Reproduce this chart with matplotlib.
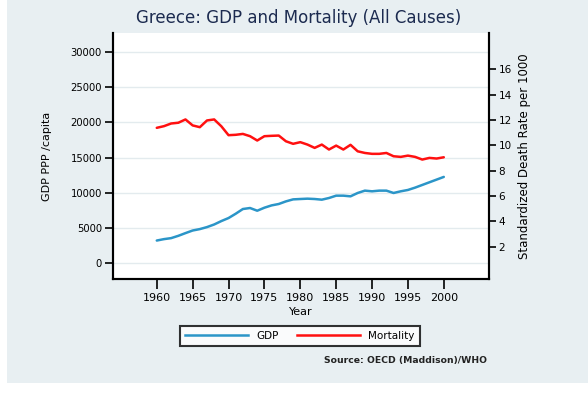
import matplotlib.pyplot as plt
from matplotlib.patches import Rectangle
from matplotlib.lines import Line2D

plt.rcParams['font.family'] = ['DejaVu Sans']

years = list(range(1960, 2001))

# GDP PPP per capita
gdp = [3186, 3386, 3529, 3857, 4243, 4614, 4814, 5100, 5471, 5957,
       6386, 7000, 7671, 7814, 7428, 7857, 8186, 8386, 8757, 9043,
       9095, 9143, 9095, 9000, 9238, 9571, 9571, 9476, 9952, 10286,
       10190, 10286, 10286, 9952, 10190, 10381, 10714, 11095, 11476, 11857,
       12238]

# standardized death rate per 1000
mort = [11.38, 11.51, 11.72, 11.78, 12.04, 11.57, 11.43, 11.96, 12.04, 11.50,
        10.80, 10.83, 10.90, 10.72, 10.38, 10.72, 10.75, 10.77, 10.32, 10.12,
        10.25, 10.06, 9.80, 10.06, 9.67, 9.98, 9.67, 10.04, 9.53, 9.40,
        9.33, 9.33, 9.40, 9.14, 9.09, 9.19, 9.09, 8.88, 9.01, 8.96,
        9.06]

gdp_ticks = [0, 5000, 10000, 15000, 20000, 25000, 30000]
mort_ticks = [2, 4, 6, 8, 10, 12, 14, 16]
year_ticks = [1960, 1965, 1970, 1975, 1980, 1985, 1990, 1995, 2000]

bg = '#e8eff2'
gridc = '#e3ebee'
blue = '#2b95c8'
red = '#ff1010'

fig = plt.figure(figsize=(5.88, 3.94), dpi=100, facecolor='white')
fig.patches.append(Rectangle((7 / 588, 11 / 394), 1, 1, transform=fig.transFigure,
                             facecolor=bg, edgecolor='none', zorder=-10))

ax = fig.add_axes([113 / 588, 1 - 279 / 394, 376 / 588, 246 / 394])
ax.set_facecolor('white')
ax2 = ax.twinx()

ax.plot(years, gdp, color=blue, lw=1.8, solid_capstyle='round')
ax2.plot(years, mort, color=red, lw=1.8, solid_capstyle='round')

ax.set_xlim(1953.9, 2006.3)
ax.set_ylim(-2286, 32714)
ax2.set_ylim(-0.53, 18.85)

ax.set_yticks(gdp_ticks)
ax.set_xticks(year_ticks)
ax2.set_yticks(mort_ticks)
ax.yaxis.grid(True, color=gridc, lw=1)
ax.set_axisbelow(True)

for a in (ax, ax2):
    for s in a.spines.values():
        s.set_linewidth(1.5)
        s.set_color('black')
    a.spines['top'].set_visible(False)
ax.tick_params(axis='y', labelsize=7.2, width=1.2, length=6, color='black', pad=2)
ax.tick_params(axis='x', labelsize=8, width=1.2, length=7, color='black', pad=3)
ax2.tick_params(axis='y', labelsize=7.5, width=1.2, length=5, pad=2)

ax.set_xlabel('Year', fontsize=8, labelpad=3)
ax.set_ylabel('GDP PPP /capita', fontsize=8, labelpad=13)
ax2.set_ylabel('Standardized Death Rate per 1000', fontsize=8.5, rotation=90, labelpad=4)

fig.text(0.508, 1 - 18 / 394, 'Greece: GDP and Mortality (All Causes)',
         ha='center', va='center', fontsize=12, color='#1c2b50')

handles = [Line2D([], [], color=blue, lw=1.8), Line2D([], [], color=red, lw=1.8)]
leg = fig.legend(handles, ['GDP', 'Mortality'], loc='center',
                 bbox_to_anchor=(300 / 588, 1 - 336 / 394), ncol=2,
                 fontsize=7.5, handlelength=6, columnspacing=1.8, handletextpad=0.8,
                 fancybox=False, frameon=True, borderpad=0.5)
leg.get_frame().set_edgecolor('black')
leg.get_frame().set_linewidth(1.5)

fig.text(487 / 588, 1 - 361 / 394, 'Source: OECD (Maddison)/WHO',
         ha='right', va='center', fontsize=6.7, fontweight='bold', color='#222222')

fig.savefig('out.png', dpi=100, facecolor=fig.get_facecolor())
